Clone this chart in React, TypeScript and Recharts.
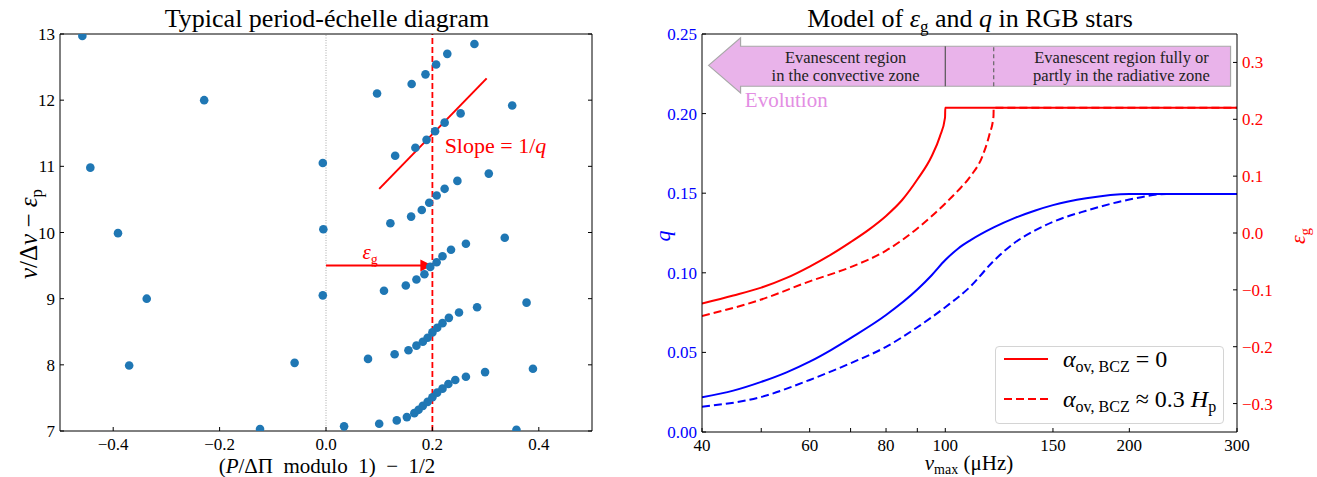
import React from 'react'
import {
  ScatterChart, Scatter, LineChart, Line, XAxis, YAxis,
  ReferenceLine, ReferenceDot, ReferenceArea, Legend,
} from 'recharts'

const SERIF = '"Liberation Serif", "Times New Roman", serif'
const RED = '#ff0000'
const BLUE = '#0000ff'
const DOT = '#1f77b4'

// period-échelle points, [P/ΔΠ mod 1 − 1/2, ν/Δν − εp], grouped by pressure order
const order7 = [[-0.124, 7.03], [0.034, 7.07], [0.1, 7.11], [0.133, 7.16], [0.152, 7.21], [0.166, 7.27], [0.174, 7.32], [0.182, 7.38], [0.191, 7.44], [0.2, 7.51], [0.209, 7.58], [0.219, 7.64], [0.23, 7.71], [0.243, 7.77], [0.263, 7.82], [0.299, 7.89], [0.389, 7.94], [0.358, 7.02]]
const order8 = [[-0.37, 7.99], [-0.059, 8.03], [0.079, 8.09], [0.129, 8.16], [0.155, 8.22], [0.17, 8.29], [0.182, 8.35], [0.191, 8.41], [0.2, 8.49], [0.209, 8.56], [0.219, 8.63], [0.231, 8.71], [0.25, 8.79], [0.284, 8.87], [0.377, 8.94]]
const order9 = [[-0.337, 9.0], [-0.006, 9.05], [0.109, 9.12], [0.15, 9.2], [0.17, 9.29], [0.185, 9.37], [0.196, 9.48], [0.208, 9.55], [0.219, 9.64], [0.235, 9.74], [0.263, 9.83], [0.336, 9.92]]
const order10 = [[-0.391, 9.99], [-0.005, 10.05], [0.121, 10.14], [0.16, 10.24], [0.18, 10.34], [0.194, 10.45], [0.208, 10.56], [0.223, 10.66], [0.247, 10.78], [0.306, 10.89]]
const order11 = [[-0.443, 10.98], [-0.006, 11.05], [0.13, 11.16], [0.168, 11.28], [0.189, 11.4], [0.205, 11.53], [0.223, 11.66], [0.253, 11.8], [0.35, 11.92]]
const order12 = [[-0.229, 12.0], [0.096, 12.1], [0.161, 12.245], [0.187, 12.39], [0.207, 12.54], [0.228, 12.7], [0.279, 12.85], [-0.458, 12.97]]

const echelleXTicks = [-0.4, -0.2, 0, 0.2, 0.4]
const echelleYTicks = [7, 8, 9, 10, 11, 12, 13]

// model curves vs numax (µHz)
const nuEpsNoOv = [40, 45, 50, 55, 60, 65, 70, 75, 80, 85, 90, 95, 98, 99.9, 100, 150, 200, 300]
const epsNoOv = [-0.124, -0.11, -0.096, -0.079, -0.059, -0.038, -0.016, 0.006, 0.03, 0.058, 0.094, 0.135, 0.17, 0.203, 0.2205, 0.2205, 0.2205, 0.2205]
const nuEpsOv = [40, 50, 60, 70, 80, 90, 100, 105, 110, 115, 118, 119.9, 120, 150, 200, 300]
const epsOv = [-0.146, -0.117, -0.085, -0.06, -0.031, 0.008, 0.052, 0.075, 0.1, 0.135, 0.172, 0.205, 0.2205, 0.2205, 0.2205, 0.2205]
const nuQNoOv = [40, 45, 50, 55, 60, 65, 70, 80, 90, 95, 100, 105, 110, 120, 130, 140, 150, 170, 200, 300]
const qNoOv = [0.0218, 0.026, 0.0315, 0.0375, 0.0442, 0.0515, 0.059, 0.0735, 0.0895, 0.0985, 0.108, 0.1153, 0.1205, 0.1285, 0.1345, 0.139, 0.1425, 0.1468, 0.1495, 0.1495]
const nuQOv = [40, 50, 60, 70, 80, 90, 100, 110, 120, 130, 140, 150, 170, 200, 230, 300]
const qOv = [0.0159, 0.022, 0.0327, 0.0432, 0.0535, 0.0658, 0.0784, 0.0915, 0.1075, 0.119, 0.1265, 0.132, 0.139, 0.146, 0.1495, 0.1495]

const nuTicks = [40, 50, 60, 70, 80, 90, 100, 150, 200, 300]
const nuLabelled = [40, 60, 80, 100, 150, 200, 300]
const qTicks = [0, 0.05, 0.1, 0.15, 0.2, 0.25]
const epsTicks = [-0.3, -0.2, -0.1, 0, 0.1, 0.2, 0.3]

const echelle = [...order7, ...order8, ...order9, ...order10, ...order11, ...order12].map(([x, y]) => ({ x, y }))
const zip = (xs: number[], ys: number[]) => xs.map((nu, i) => ({ nu, v: ys[i] }))

const fmtSigned = (v: number, d: number) => (v < 0 ? '\u2212' : '') + Math.abs(v).toFixed(d)
const blank = () => ''

// tick labels drawn by hand so the serif font really applies
const makeTick = (fill: string, fmt: (v: number) => string, dy: string) => (p: any) => (
  <text x={p.x} y={p.y} dy={dy} textAnchor={p.textAnchor} fill={fill} fontFamily={SERIF} fontSize={17}>
    {fmt(p.payload.value)}
  </text>
)

const Dot = (p: any) => <circle cx={p.cx} cy={p.cy} r={4.3} fill={DOT} />

const EgArrow = (p: any) => (
  <g>
    <line x1={p.x1} y1={p.y1} x2={p.x2 - 11} y2={p.y2} stroke={RED} strokeWidth={2} />
    <polygon points={`${p.x2},${p.y2} ${p.x2 - 12},${p.y2 - 6} ${p.x2 - 12},${p.y2 + 6}`} fill={RED} />
  </g>
)

const SlopeText = (p: any) => (
  <text x={p.cx} y={p.cy} dy="0.35em" fill={RED} fontFamily={SERIF} fontSize={22}>
    Slope = 1/<tspan fontStyle="italic">q</tspan>
  </text>
)

const EgText = (p: any) => (
  <text x={p.cx} y={p.cy} dy="0.3em" textAnchor="middle" fill={RED} fontFamily={SERIF} fontSize={21}>
    <tspan fontStyle="italic">ε</tspan><tspan fontSize={14} dy={5}>g</tspan>
  </text>
)

const EchelleChart = () => (
  <ScatterChart width={600} height={477} margin={{ top: 33, right: 7, bottom: 16, left: 0 }}>
    <XAxis type="number" dataKey="x" domain={[-0.5, 0.5]} ticks={echelleXTicks} allowDataOverflow
      height={30} stroke="#000" tickSize={-4} tickMargin={11}
      tick={makeTick('#000', (v) => fmtSigned(v, 1), '0.71em')} />
    <XAxis xAxisId="top" orientation="top" type="number" domain={[-0.5, 0.5]} ticks={echelleXTicks}
      allowDataOverflow height={1} stroke="#000" tickSize={-4} tickFormatter={blank} />
    <YAxis type="number" dataKey="y" domain={[7, 13]} ticks={echelleYTicks} allowDataOverflow
      width={60} stroke="#000" tickSize={-4} tickMargin={9} tick={makeTick('#000', String, '0.355em')} />
    <YAxis yAxisId="right" orientation="right" type="number" domain={[7, 13]} ticks={echelleYTicks}
      allowDataOverflow width={1} stroke="#000" tickSize={-4} tickFormatter={blank} />
    <ReferenceLine x={0} stroke="#aaaaaa" strokeWidth={1} strokeDasharray="1 1.5" />
    <ReferenceLine x={0.2} stroke={RED} strokeWidth={1.8} strokeDasharray="6 3" />
    <ReferenceLine segment={[{ x: 0.1, y: 10.66 }, { x: 0.302, y: 12.33 }]} stroke={RED} strokeWidth={2} />
    <ReferenceLine segment={[{ x: 0, y: 9.5 }, { x: 0.2, y: 9.5 }]} shape={EgArrow} />
    <Scatter data={echelle} shape={Dot} isAnimationActive={false} />
    <ReferenceDot x={0.223} y={11.32} r={0} shape={SlopeText} />
    <ReferenceDot x={0.083} y={9.69} r={0} shape={EgText} />
  </ScatterChart>
)

const Banner = (p: any) => {
  const { x, y, width, height } = p
  const mid = y + height / 2
  const head = x + 32
  const bt = y + height * 0.153
  const bb = y + height * 0.879
  return (
    <polygon
      points={`${x},${mid} ${head},${y} ${head},${bt} ${x + width},${bt} ${x + width},${bb} ${head},${bb} ${head},${y + height}`}
      fill="#e9b3ea" stroke="#a8a8a8" strokeWidth={1.2} />
  )
}

const twoLines = (a: string, b: string) => (p: any) => (
  <text x={p.cx} y={p.cy} textAnchor="middle" fill="#222" fontFamily={SERIF} fontSize={16.5}>
    <tspan x={p.cx} dy={-3}>{a}</tspan>
    <tspan x={p.cx} dy={18}>{b}</tspan>
  </text>
)

const EvolutionText = (p: any) => (
  <text x={p.cx} y={p.cy} dy="0.35em" fill="#e38ee3" fontFamily={SERIF} fontSize={21}>Evolution</text>
)

const legendItems = [
  { dash: undefined, rest: ' = 0', hp: false },
  { dash: '8 4', rest: ' ≈ 0.3 ', hp: true },
]

const LegendBox = () => (
  <div style={{ position: 'relative', width: 229, height: 78, boxSizing: 'border-box', border: '1px solid #d4d4d4', borderRadius: 4, background: 'rgba(255,255,255,0.85)', fontFamily: SERIF, color: '#000' }}>
    {legendItems.map((it, i) => (
      <div key={i} style={{ position: 'absolute', left: 8, top: i ? 38 : -2, height: 28, display: 'flex', alignItems: 'center', whiteSpace: 'nowrap' }}>
        <svg width={44} height={6} style={{ display: 'block' }}>
          <line x1={0} y1={3} x2={44} y2={3} stroke={RED} strokeWidth={2} strokeDasharray={it.dash} />
        </svg>
        <span style={{ marginLeft: 15, fontSize: 24 }}>
          <i>α</i>
          <span style={{ fontSize: 16, position: 'relative', top: 5 }}>ov, BCZ</span>
          {it.rest}
          {it.hp && <><i>H</i><span style={{ fontSize: 16, position: 'relative', top: 5 }}>p</span></>}
        </span>
      </div>
    ))}
  </div>
)

const ModelChart = () => (
  <LineChart width={697} height={477} margin={{ top: 33, right: 29, bottom: 15, left: 22 }}>
    <XAxis type="number" dataKey="nu" scale="log" domain={[40, 300]} ticks={nuTicks} allowDataOverflow
      height={30} stroke="#000" tickSize={-4} tickMargin={11}
      tick={makeTick('#000', (v) => (nuLabelled.includes(v) ? String(v) : ''), '0.71em')} />
    <XAxis xAxisId="top" orientation="top" type="number" scale="log" domain={[40, 300]} ticks={nuTicks}
      allowDataOverflow height={1} stroke="#000" tickSize={-4} tickFormatter={blank} />
    <YAxis yAxisId="q" type="number" domain={[0, 0.25]} ticks={qTicks} allowDataOverflow width={60}
      stroke="#000" tickSize={-4} tickMargin={9} tick={makeTick(BLUE, (v) => v.toFixed(2), '0.355em')} />
    <YAxis yAxisId="eps" orientation="right" type="number" domain={[-0.35, 0.35]} ticks={epsTicks} allowDataOverflow
      width={51} stroke="#000" tickSize={-4} tickMargin={9} tick={makeTick(RED, (v) => fmtSigned(v, 1), '0.355em')} />

    <ReferenceArea yAxisId="q" x1={41} x2={292.8} y1={0.213} y2={0.2476} shape={Banner} />
    <ReferenceLine yAxisId="q" segment={[{ x: 100, y: 0.2172 }, { x: 100, y: 0.2423 }]} stroke="#555" strokeWidth={1.2} />
    <ReferenceLine yAxisId="q" segment={[{ x: 120, y: 0.2172 }, { x: 120, y: 0.2423 }]} stroke="#666" strokeWidth={1.2} strokeDasharray="4 3" />
    <ReferenceDot yAxisId="q" x={68.7} y={0.2299} r={0} shape={twoLines('Evanescent region', 'in the convective zone')} />
    <ReferenceDot yAxisId="q" x={194.2} y={0.2299} r={0} shape={twoLines('Evanescent region fully or', 'partly in the radiative zone')} />
    <ReferenceDot yAxisId="q" x={47} y={0.2088} r={0} shape={EvolutionText} />

    <Line yAxisId="eps" data={zip(nuEpsNoOv, epsNoOv)} dataKey="v" type="monotone" stroke={RED} strokeWidth={2} dot={false} isAnimationActive={false} />
    <Line yAxisId="eps" data={zip(nuEpsOv, epsOv)} dataKey="v" type="monotone" stroke={RED} strokeWidth={2} strokeDasharray="8 4" dot={false} isAnimationActive={false} />
    <Line yAxisId="q" data={zip(nuQNoOv, qNoOv)} dataKey="v" type="monotone" stroke={BLUE} strokeWidth={2} dot={false} isAnimationActive={false} />
    <Line yAxisId="q" data={zip(nuQOv, qOv)} dataKey="v" type="monotone" stroke={BLUE} strokeWidth={2} strokeDasharray="8 4" dot={false} isAnimationActive={false} />

    <Legend layout="vertical" align="center" verticalAlign="middle" content={LegendBox}
      wrapperStyle={{ left: 375, top: 346, width: 229, height: 78 }} />
  </LineChart>
)

const centered: React.CSSProperties = {
  position: 'absolute', fontFamily: SERIF, whiteSpace: 'nowrap', lineHeight: 1,
  transform: 'translate(-50%, -50%)', color: '#000',
}
const rotated: React.CSSProperties = { ...centered, transform: 'translate(-50%, -50%) rotate(-90deg)' }
const subStyle = (size: number): React.CSSProperties => ({ fontSize: size, position: 'relative', top: '0.3em' })

export default function App() {
  return (
    <div style={{ position: 'absolute', left: 0, top: 0, width: 1317, height: 477, background: '#fff', overflow: 'hidden', fontFamily: SERIF }}>
      <div style={{ position: 'absolute', left: 0, top: 0 }}><EchelleChart /></div>
      <div style={{ position: 'absolute', left: 620, top: 0 }}><ModelChart /></div>

      <div style={{ ...centered, left: 327, top: 18.5, fontSize: 26 }}>Typical period-échelle diagram</div>
      <div style={{ ...centered, left: 970, top: 18.5, fontSize: 26 }}>
        Model of <i>ε</i><span style={subStyle(17)}>g</span> and <i>q</i> in RGB stars
      </div>

      <div style={{ ...rotated, left: 28, top: 234, fontSize: 25 }}>
        <i>ν</i>/Δ<i>ν</i> − <i>ε</i><span style={subStyle(17)}>p</span>
      </div>
      <div style={{ ...centered, left: 327, top: 466, fontSize: 21 }}>
        (<i>P</i>/ΔΠ&nbsp;&nbsp;modulo&nbsp;&nbsp;1)&nbsp;&nbsp;−&nbsp;&nbsp;1/2
      </div>

      <div style={{ ...rotated, left: 663, top: 236, fontSize: 22, color: BLUE }}><i>q</i></div>
      <div style={{ ...rotated, left: 1298, top: 236, fontSize: 22, color: RED }}>
        <i>ε</i><span style={subStyle(15)}>g</span>
      </div>
      <div style={{ ...centered, left: 969, top: 463, fontSize: 21 }}>
        <i>ν</i><span style={subStyle(14)}>max</span> (μHz)
      </div>
    </div>
  )
}
